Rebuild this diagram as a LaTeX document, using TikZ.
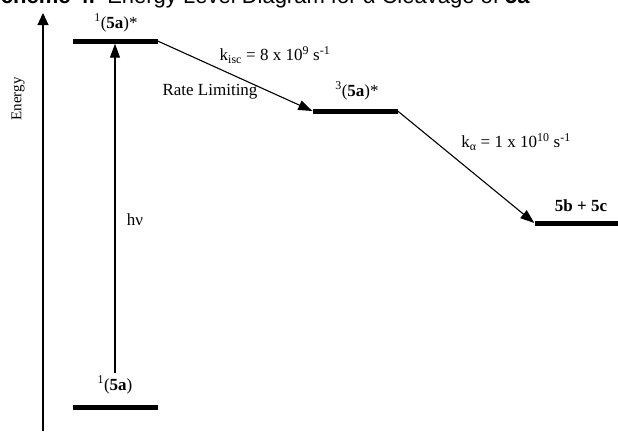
\documentclass[tikz,border=0pt]{standalone}
\usepackage{fontspec}
\setmainfont{Liberation Serif}
\newfontfamily\capfont{Liberation Sans}
\usetikzlibrary{arrows.meta,positioning}
\tikzset{>={Triangle[length=14pt,width=10pt]},every node/.style={font=\fontsize{17}{20}\selectfont},
 level/.style={fill=black,inner sep=0pt,minimum width=85pt,minimum height=5pt},
 trans/.style={->,line width=1.1pt},axisline/.style={->,line width=1.1pt,>={Triangle[length=12pt,width=11pt]}}}

\begin{document}
\begin{tikzpicture}[x=1pt,y=-1pt]
\useasboundingbox (0,0) rectangle (618,431);
\node[anchor=base west,inner sep=0pt,font=\capfont\fontsize{22}{26}\selectfont] (title) at (-14,3)
 {\textbf{Scheme 4.}\ \ Energy Level Diagram for α Cleavage of \textbf{5a}};
% energy axis
\coordinate (ebot) at (43,431);
\coordinate (etop) at (43,13);
\draw[axisline] (ebot) -- (etop);
\node[rotate=90,font=\fontsize{15}{18}\selectfont] (elab) at (18,99) {Energy};
% levels
\node[level] (S1) at (115,41) {};
\node[level] (S0) at (115,407) {};
\node[level] (T1) at (355,111) {};
\node[level] (P) at (577,223) {};
\node (S1lab) at (116,23) {\textsuperscript{1}(\textbf{5a})*};
\node (S0lab) at (115,385) {\textsuperscript{1}(\textbf{5a})};
\node (T1lab) at (357,91) {\textsuperscript{3}(\textbf{5a})*};
\node (Plab) at (581,206) {\textbf{5b + 5c}};
% transitions
\draw[trans] (S0lab.north) -- (S1.south);
\node (hv) at (135,220) {hν};
\draw[trans] (S1.east) -- (T1.west);
\node (kisc) at (275,55) {k\textsubscript{isc} = 8 x 10\textsuperscript{9} s\textsuperscript{-1}};
\node (rl) at (210,92) {Rate Limiting};
\draw[trans] (T1.east) -- (P.west);
\node (ka) at (516,142) {k\textsubscript{α} = 1 x 10\textsuperscript{10} s\textsuperscript{-1}};
\end{tikzpicture}
\end{document}
